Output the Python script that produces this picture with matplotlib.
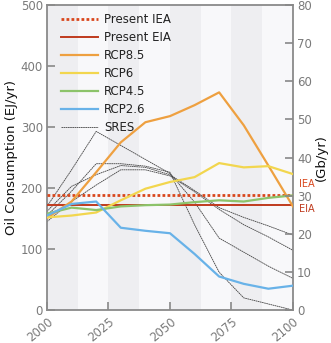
import matplotlib
matplotlib.use("Agg")
import matplotlib.pyplot as plt

years = [2000, 2010, 2020, 2030, 2040, 2050, 2060, 2070, 2080, 2090, 2100]
rcp85 = [151, 178, 226, 275, 308, 318, 336, 357, 303, 237, 170]
rcp6 = [152, 155, 160, 180, 199, 210, 218, 241, 234, 236, 223]
rcp45 = [158, 168, 164, 170, 172, 173, 177, 180, 178, 184, 188]
rcp26 = [155, 174, 178, 135, 130, 126, 92, 55, 43, 35, 40]

sres_years = [2000, 2010, 2020, 2030, 2040, 2050, 2060, 2070, 2080, 2090, 2100]
sres_a = [170, 230, 293, 270, 247, 224, 177, 118, 95, 72, 52]
sres_b = [155, 195, 240, 240, 236, 226, 140, 62, 20, 10, 0]
sres_c = [162, 203, 222, 237, 234, 222, 196, 168, 152, 138, 123]
sres_d = [145, 178, 205, 230, 230, 220, 194, 165, 140, 120, 98]
sres = [sres_a, sres_b, sres_c, sres_d]

iea_present = 189
eia_present = 172

bands = [(2000, 2012.5), (2025, 2037.5), (2050, 2062.5), (2075, 2087.5)]

fig = plt.figure(figsize=(3.31, 3.43), dpi=100)
ax = fig.add_axes([0.142, 0.096, 0.743, 0.889])
ax.set_facecolor("#f8f8fa")
for a, b in bands:
    ax.axvspan(a, b, color="#eeeef1", lw=0, zorder=0)

c_iea = "#d9461c"
c_eia = "#bf3a1d"
ax.axhline(iea_present, color=c_iea, lw=2, ls=(0, (1, 0.8)), label="Present IEA", zorder=3)
ax.axhline(eia_present, color=c_eia, lw=1.4, label="Present EIA", zorder=3)
ax.plot(years, rcp85, color="#eea040", lw=1.6, label="RCP8.5", zorder=4)
ax.plot(years, rcp6, color="#f2d64e", lw=1.6, label="RCP6", zorder=4)
ax.plot(years, rcp45, color="#8cc36a", lw=1.6, label="RCP4.5", zorder=4)
ax.plot(years, rcp26, color="#68b2e8", lw=1.6, label="RCP2.6", zorder=4)
for i, s in enumerate(sres):
    ax.plot(sres_years, s, color="#444444", lw=0.6, ls=(0, (2, 0.6)),
            label="SRES" if i == 0 else None, zorder=2)

ax.set_xlim(2000, 2100)
ax.set_ylim(0, 500)
ax.set_xticks([2000, 2025, 2050, 2075, 2100])
ax.set_yticks([0, 100, 200, 300, 400, 500])
tc = "#7a7a7a"
ax.tick_params(axis="both", colors="#888888", labelcolor=tc, labelsize=8.5,
               direction="in", length=6, width=1.2)
ax.tick_params(axis="y", pad=3)
for lab in ax.get_xticklabels():
    lab.set_rotation(40)
    lab.set_ha("right")
    lab.set_rotation_mode("anchor")
for sp in ax.spines.values():
    sp.set_color("#8a8a8a")
    sp.set_linewidth(1.3)
ax.set_ylabel("Oil Consumption (EJ/yr)", fontsize=9.5, color="#111111", labelpad=2)

ax2 = ax.twinx()
ax2.set_ylim(0, 80)
ax2.set_yticks(range(0, 81, 10))
ax2.tick_params(axis="y", colors="#888888", labelcolor=tc, labelsize=8.5,
                direction="in", length=6, width=1.2, pad=3)
for sp in ax2.spines.values():
    sp.set_visible(False)
fig.text(0.972, 0.54, "(Gb/yr)", rotation=90, fontsize=9.5, color="#111111",
         ha="center", va="center")

ax.text(1.025, iea_present + 18, "IEA", transform=ax.get_yaxis_transform(),
        color=c_iea, fontsize=7, va="center", ha="left", clip_on=False)
ax.text(1.025, eia_present - 7, "EIA", transform=ax.get_yaxis_transform(),
        color=c_eia, fontsize=7, va="center", ha="left", clip_on=False)

leg = ax.legend(loc="upper left", frameon=False, fontsize=8.5, handlelength=3.1,
                handletextpad=0.5, labelspacing=0.42, borderaxespad=0.3,
                bbox_to_anchor=(0.025, 1.0))
for t in leg.get_texts():
    t.set_color("#222222")

fig.savefig("out.png", dpi=100)
